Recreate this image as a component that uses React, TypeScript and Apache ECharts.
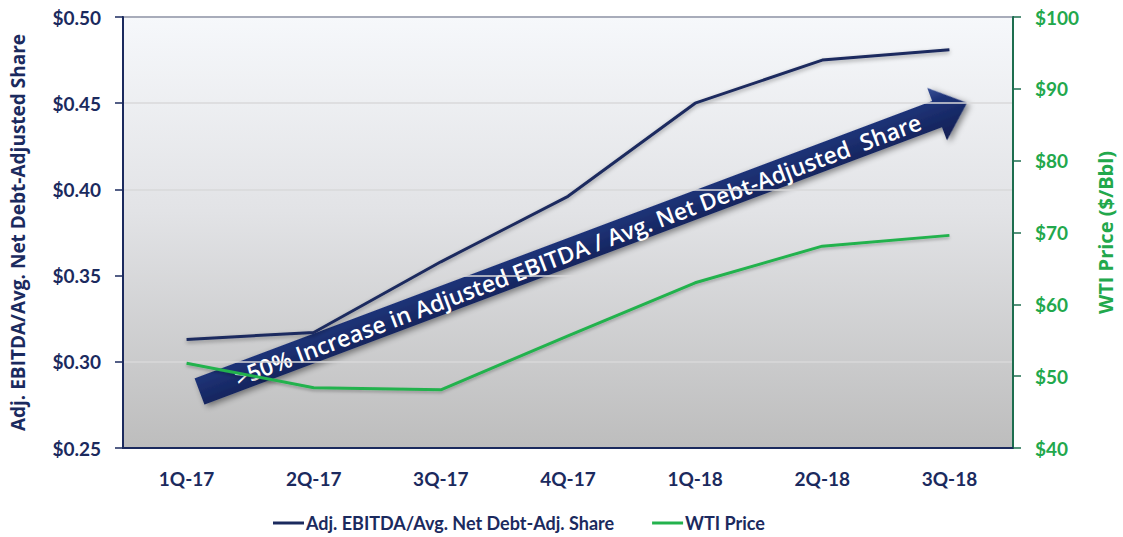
import React, { useEffect, useRef } from "react";
import * as echarts from "echarts";

const categories = ["1Q-17", "2Q-17", "3Q-17", "4Q-17", "1Q-18", "2Q-18", "3Q-18"];
const ebitdaPerShare = [0.313, 0.317, 0.358, 0.396, 0.45, 0.475, 0.481];
const wtiPrice = [51.8, 48.4, 48.1, 55.6, 63.0, 68.1, 69.6];
const leftTicks = { min: 0.25, max: 0.5, step: 0.05 };
const rightTicks = { min: 40, max: 100, step: 10 };
const seriesNames = ["Adj. EBITDA/Avg. Net Debt-Adj. Share", "WTI Price"];
const leftAxisTitle = "Adj. EBITDA/Avg. Net Debt-Adjusted Share";
const rightAxisTitle = "WTI Price ($/Bbl)";
const arrowText = ">50% Increase in Adjusted EBITDA / Avg. Net Debt-Adjusted  Share";

const NAVY = "#1b2a5e";
const GREEN = "#22a84c";
const GREEN_LINE = "#23b24d";
const GREEN_AXIS = "#1d6e4f";
const FONT = "Lato, 'Open Sans', sans-serif";
const FONT2 = "'Open Sans', Lato, sans-serif";

export default function App() {
  const ref = useRef<HTMLDivElement>(null);
  useEffect(() => {
    if (!ref.current) return;
    const chart = echarts.init(ref.current, undefined, { renderer: "svg" });
    const L = 820;
    const head = 32;
    const sh = 14;
    const hh = 28;
    chart.setOption({
      animation: false,
      textStyle: { fontFamily: FONT },
      grid: {
        left: 123,
        right: 107,
        top: 17,
        bottom: 89,
        show: true,
        borderColor: NAVY,
        borderWidth: 2,
        backgroundColor: new echarts.graphic.LinearGradient(0, 0, 0, 1, [
          { offset: 0, color: "#f6f8fb" },
          { offset: 0.45, color: "#e2e3e6" },
          { offset: 1, color: "#bdbdbd" },
        ]),
      },
      legend: {
        left: 268,
        top: 509,
        itemGap: 38,
        itemWidth: 31,
        itemHeight: 3,
        icon: "rect",
        textStyle: { color: NAVY, fontSize: 18, fontWeight: "bold", fontFamily: FONT, padding: [0, 0, 0, -3] },
        data: seriesNames,
      },
      xAxis: {
        type: "category",
        data: categories,
        boundaryGap: true,
        axisLine: { lineStyle: { color: NAVY, width: 2 } },
        axisTick: { show: false },
        axisLabel: { color: NAVY, fontSize: 19, fontWeight: "bold", margin: 21, fontFamily: FONT },
      },
      yAxis: [
        {
          type: "value",
          min: leftTicks.min,
          max: leftTicks.max,
          interval: leftTicks.step,
          name: leftAxisTitle,
          nameLocation: "middle",
          nameGap: 96,
          nameTextStyle: { color: NAVY, fontSize: 19, fontWeight: "bold", fontFamily: FONT2 },
          axisLine: { show: true, lineStyle: { color: NAVY, width: 2 } },
          axisTick: { show: true, length: 8, lineStyle: { color: NAVY, width: 1.5 } },
          axisLabel: {
            color: NAVY,
            fontSize: 19,
            fontWeight: "bold",
            margin: 22,
            fontFamily: FONT,
            formatter: (v: number) => "$" + v.toFixed(2),
          },
          splitLine: { show: true, lineStyle: { color: "#d8d8da", width: 1.5 } },
        },
        {
          type: "value",
          min: rightTicks.min,
          max: rightTicks.max,
          interval: rightTicks.step,
          position: "right",
          name: rightAxisTitle,
          nameLocation: "middle",
          nameGap: 82,
          nameRotate: 90,
          nameTextStyle: { color: GREEN, fontSize: 20, fontWeight: "bold", fontFamily: FONT2 },
          axisLine: { show: true, lineStyle: { color: GREEN_AXIS, width: 2 } },
          axisTick: { show: true, length: 8, lineStyle: { color: GREEN_AXIS, width: 1.5 } },
          axisLabel: {
            color: GREEN,
            fontSize: 19,
            fontWeight: "bold",
            margin: 22,
            fontFamily: FONT,
            formatter: (v: number) => "$" + v,
          },
          splitLine: { show: false },
        },
      ],
      series: [
        {
          name: seriesNames[0],
          type: "line",
          data: ebitdaPerShare,
          yAxisIndex: 0,
          symbol: "none",
          z: 5,
          color: NAVY,
          lineStyle: {
            color: NAVY,
            width: 3,
            shadowColor: "rgba(0,0,0,0.35)",
            shadowBlur: 4,
            shadowOffsetY: 2,
          },
        },
        {
          name: seriesNames[1],
          type: "line",
          data: wtiPrice,
          yAxisIndex: 1,
          symbol: "none",
          z: 2,
          color: GREEN_LINE,
          lineStyle: {
            color: GREEN_LINE,
            width: 3,
            shadowColor: "rgba(0,0,0,0.25)",
            shadowBlur: 3,
            shadowOffsetY: 2,
          },
        },
      ],
      graphic: [
        {
          type: "group",
          x: 199.5,
          y: 391.5,
          rotation: 0.3595,
          z: 3,
          children: [
            {
              type: "polygon",
              shape: {
                points: [
                  [0, -sh],
                  [L - head, -sh],
                  [L - head, -hh],
                  [L, 0],
                  [L - head, hh],
                  [L - head, sh],
                  [0, sh],
                ],
              },
              style: {
                fill: new echarts.graphic.LinearGradient(0, 0, 0, 1, [
                  { offset: 0, color: "#3a5298" },
                  { offset: 0.25, color: "#1e3378" },
                  { offset: 1, color: "#111e52" },
                ]),
                shadowColor: "rgba(0,0,0,0.45)",
                shadowBlur: 6,
                shadowOffsetX: 2,
                shadowOffsetY: 3,
              },
            },
            {
              type: "text",
              x: 404,
              y: 0,
              style: {
                text: arrowText,
                fill: "#ffffff",
                fontSize: 23,
                fontWeight: 600,
                fontFamily: FONT2,
                align: "center",
                verticalAlign: "middle",
              },
            },
          ],
        },
      ],
    });
    return () => chart.dispose();
  }, []);
  return (
    <div
      ref={ref}
      style={{ position: "fixed", left: 0, top: 0, width: 1123, height: 537, background: "#ffffff" }}
    />
  );
}
